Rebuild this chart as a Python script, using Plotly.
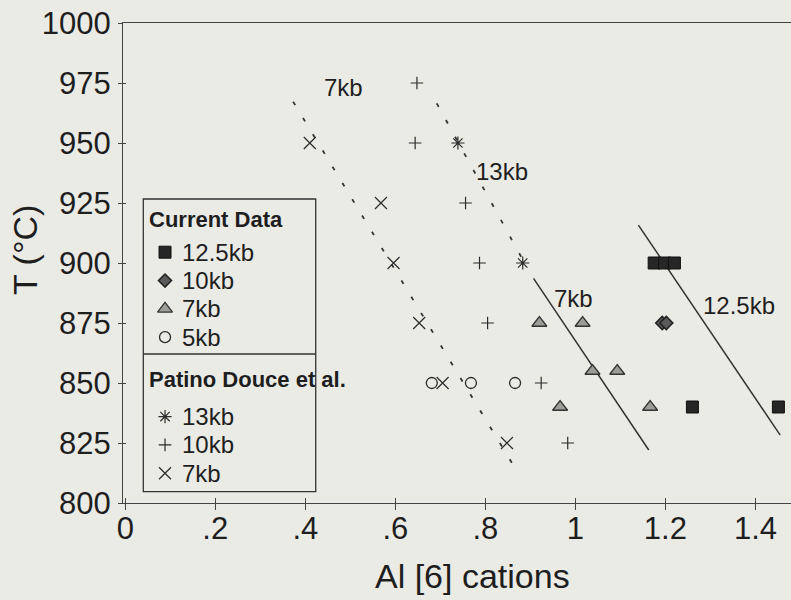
import plotly.graph_objects as go

# ---- data: Al[6] cations vs temperature ----
cur_125kb_x = [1.175, 1.198, 1.22, 1.26, 1.451]
cur_125kb_y = [900, 900, 900, 840, 840]

cur_10kb_x = [1.193, 1.202]
cur_10kb_y = [875, 875]

cur_7kb_x = [0.92, 1.016, 1.038, 1.093, 0.966, 1.166]
cur_7kb_y = [875, 875, 855, 855, 840, 840]

cur_5kb_x = [0.681, 0.768, 0.866]
cur_5kb_y = [850, 850, 850]

pd_13kb_x = [0.739, 0.883]
pd_13kb_y = [950, 900]

pd_10kb_x = [0.648, 0.644, 0.756, 0.787, 0.805, 0.924, 0.983]
pd_10kb_y = [975, 950, 925, 900, 875, 850, 825]

pd_7kb_x = [0.41, 0.568, 0.596, 0.653, 0.705, 0.848]
pd_7kb_y = [950, 925, 900, 875, 850, 825]

# isobar trend lines (end points)
pd_7kb_line_x = [0.373, 0.871]
pd_7kb_line_y = [967.2, 813.0]
pd_13kb_line_x = [0.692, 0.893]
pd_13kb_line_y = [966.5, 898.0]
cur_7kb_line_x = [0.907, 1.163]
cur_7kb_line_y = [893.6, 822.1]
cur_125kb_line_x = [1.140, 1.455]
cur_125kb_line_y = [915.8, 828.3]

# isobar labels
line_labels = ["7kb", "13kb", "7kb", "12.5kb"]
line_label_x = [0.484, 0.838, 0.996, 1.364]
line_label_y = [973.3, 938.0, 885.3, 882.5]

x_ticks = [0, 0.2, 0.4, 0.6, 0.8, 1.0, 1.2, 1.4]
x_ticktext = ["0", ".2", ".4", ".6", ".8", "1", "1.2", "1.4"]
y_ticks = [800, 825, 850, 875, 900, 925, 950, 975, 1000]

# ---- styles ----
INK = "#2b2b2b"
BG = "#ebebe6"
FONT = "Liberation Sans, Arial, sans-serif"

styles = {
    "sq": dict(symbol="square", size=12, color="#262626", line=dict(color="#111111", width=1)),
    "di": dict(symbol="diamond", size=10, color="#5a5a5a", line=dict(color="#222222", width=1.6)),
    "tr": dict(symbol="triangle-up", size=13, color="#9c9c98", line=dict(color="#333333", width=1.3)),
    "ci": dict(symbol="circle-open", size=11, color=INK, line=dict(color=INK, width=1.3)),
    "as": dict(symbol="asterisk-open", size=11, color=INK, line=dict(color=INK, width=1.2)),
    "cr": dict(symbol="cross-thin-open", size=9, color=INK, line=dict(color=INK, width=1.2)),
    "xx": dict(symbol="x-thin-open", size=12, color=INK, line=dict(color=INK, width=1.2)),
}

fig = go.Figure()

# trend lines
dotted = dict(color="#333333", width=1.8, dash="4px,15px")
solid = dict(color="#333333", width=1.5)
for lx, ly, ln in [
    (pd_7kb_line_x, pd_7kb_line_y, dotted),
    (pd_13kb_line_x, pd_13kb_line_y, dotted),
    (cur_7kb_line_x, cur_7kb_line_y, solid),
    (cur_125kb_line_x, cur_125kb_line_y, solid),
]:
    fig.add_trace(go.Scatter(x=lx, y=ly, mode="lines", line=ln,
                             showlegend=False, hoverinfo="skip"))

# data points
for xs, ys, key in [
    (pd_7kb_x, pd_7kb_y, "xx"),
    (pd_10kb_x, pd_10kb_y, "cr"),
    (pd_13kb_x, pd_13kb_y, "as"),
    (cur_5kb_x, cur_5kb_y, "ci"),
    (cur_7kb_x, cur_7kb_y, "tr"),
    (cur_10kb_x, cur_10kb_y, "di"),
    (cur_125kb_x, cur_125kb_y, "sq"),
]:
    fig.add_trace(go.Scatter(x=xs, y=ys, mode="markers", marker=styles[key],
                             showlegend=False, cliponaxis=False))

# ---- key box (drawn in plot-area fractions on an overlay axis pair) ----
box_x0, box_x1, box_y0, box_y1 = 0.0304, 0.2885, 0.0235, 0.6333
divider_y = 0.3104
sym_x, text_x, head_x = 0.0629, 0.0853, 0.0355
groups = [
    ("Current Data", 0.591, 0.5225, [("sq", "12.5kb"), ("di", "10kb"), ("tr", "7kb"), ("ci", "5kb")]),
    ("Patino Douce et al.", 0.2563, 0.1800, [("as", "13kb"), ("cr", "10kb"), ("xx", "7kb")]),
]
row_step = 0.0590

annotations = []
for title, head_y, first_y, items in groups:
    annotations.append(dict(x=head_x, y=head_y, xref="paper", yref="paper", text="<b>" + title + "</b>",
                            showarrow=False, xanchor="left", yanchor="middle",
                            font=dict(family=FONT, size=22, color="#1e1e1e")))
    for i, (key, label) in enumerate(items):
        ry = first_y - i * row_step
        fig.add_trace(go.Scatter(x=[sym_x], y=[ry], mode="markers", marker=styles[key],
                                 xaxis="x2", yaxis="y2", showlegend=False,
                                 cliponaxis=False, hoverinfo="skip"))
        annotations.append(dict(x=text_x, y=ry, xref="paper", yref="paper", text=label,
                                showarrow=False, xanchor="left", yanchor="middle",
                                font=dict(family=FONT, size=24, color="#1e1e1e")))

for t, lx, ly in zip(line_labels, line_label_x, line_label_y):
    annotations.append(dict(x=lx, y=ly, xref="x", yref="y", text=t, showarrow=False,
                            xanchor="center", yanchor="middle",
                            font=dict(family=FONT, size=24, color="#1e1e1e")))

# axis titles
annotations.append(dict(x=(472 - 123) / 668, y=-(576 - 503) / 480, xref="paper", yref="paper",
                        text="Al [6] cations", showarrow=False, xanchor="center", yanchor="middle",
                        font=dict(family=FONT, size=34, color="#1e1e1e")))
annotations.append(dict(x=-(123 - 25) / 668, y=(503 - 250) / 480, xref="paper", yref="paper",
                        text="T (°C)", textangle=-90, showarrow=False,
                        xanchor="center", yanchor="middle",
                        font=dict(family=FONT, size=34, color="#1e1e1e")))

shapes = [
    dict(type="rect", xref="paper", yref="paper", x0=box_x0, x1=box_x1, y0=box_y0, y1=box_y1,
         line=dict(color="#333333", width=1.3)),
    dict(type="line", xref="paper", yref="paper", x0=box_x0, x1=box_x1, y0=divider_y, y1=divider_y,
         line=dict(color="#333333", width=1.3)),
]

# empty trace so the inner-tick overlay axes exist
fig.add_trace(go.Scatter(x=[], y=[], xaxis="x3", yaxis="y3", showlegend=False))

x_range = [-0.005, 1.479]
y_range = [800, 1000]
tickfont = dict(family=FONT, size=31, color="#1e1e1e")

fig.update_layout(
    width=791, height=600, autosize=False,
    margin=dict(l=123, r=0, t=23, b=97),
    paper_bgcolor=BG, plot_bgcolor=BG,
    showlegend=False,
    xaxis=dict(range=x_range, tickvals=x_ticks, ticktext=x_ticktext, ticks="outside", ticklen=6,
               tickwidth=1.2, tickcolor="#444444", showline=True, linecolor="#444444", linewidth=1.3,
               mirror=True, showgrid=False, zeroline=False, tickfont=tickfont, ticklabelstandoff=-8),
    yaxis=dict(range=y_range, tickvals=y_ticks, ticks="outside", ticklen=4, tickwidth=1.2,
               tickcolor="#444444", showline=True, linecolor="#444444", linewidth=1.3,
               showgrid=False, zeroline=False, tickfont=tickfont, ticklabelstandoff=1),
    xaxis2=dict(range=[0, 1], overlaying="x", anchor="y2", visible=False),
    yaxis2=dict(range=[0, 1], overlaying="y", anchor="x2", visible=False),
    xaxis3=dict(range=x_range, overlaying="x", anchor="y3", tickvals=x_ticks, ticks="inside",
                ticklen=5, tickwidth=1.2, tickcolor="#444444", showticklabels=False,
                showline=False, showgrid=False, zeroline=False),
    yaxis3=dict(range=y_range, overlaying="y", anchor="x3", side="left", tickvals=y_ticks,
                ticks="inside", ticklen=3, tickwidth=1.2, tickcolor="#444444",
                showticklabels=False, showline=False, showgrid=False, zeroline=False),
    annotations=annotations,
    shapes=shapes,
)

fig.write_html("out.html")
